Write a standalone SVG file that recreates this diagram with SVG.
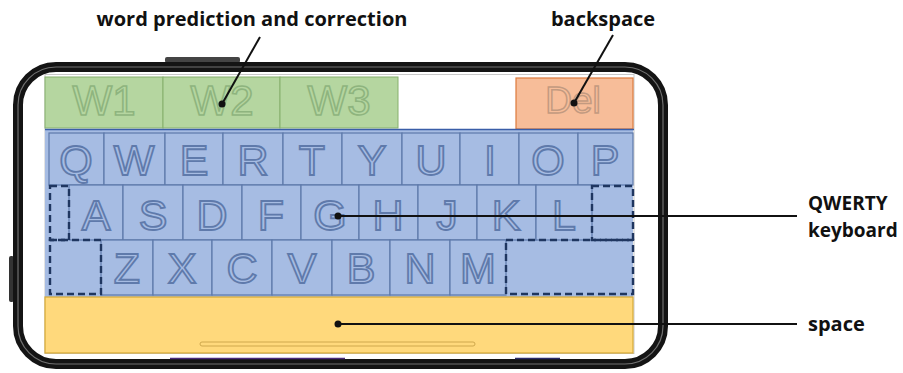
<svg xmlns="http://www.w3.org/2000/svg" width="903" height="373" viewBox="0 0 903 373">
<style>
.lbl{font-family:"Open Sans","Liberation Sans",sans-serif;font-weight:700;font-size:20px;fill:#111}
.lbs{font-size:19px}
.key{fill:#a6bce3;stroke:#5d79aa;stroke-width:1.2}
.kl{font-family:"Liberation Sans",Arial,sans-serif;font-size:43px;fill:#a6bce3;stroke:#5f7aab;stroke-width:1.8;text-anchor:middle}
.wl{font-family:"Liberation Sans",Arial,sans-serif;font-size:42px;fill:#b5d6a0;stroke:#8eb47e;stroke-width:1.6;text-anchor:middle}
.dl{font-family:"Liberation Sans",Arial,sans-serif;font-size:37px;fill:#f7bd99;stroke:#c39a80;stroke-width:1.5;text-anchor:middle}
.dash{fill:none;stroke:#1f3660;stroke-width:2.4;stroke-dasharray:7 4}
.con{stroke:#111;stroke-width:2;fill:none}
.dot{fill:#111}
</style>
<rect width="903" height="373" fill="#fff"/>
<g id="phone">
<rect x="165" y="57" width="75" height="6" rx="2" fill="#444"/>
<rect x="9" y="256" width="5" height="46" rx="2" fill="#333"/>
<rect x="18" y="67" width="645" height="297" rx="38" fill="#fff" stroke="#141414" stroke-width="10"/>
<rect x="18" y="67" width="645" height="297" rx="38" fill="none" stroke="#707070" stroke-width="1.2"/>
<line x1="170" y1="358.5" x2="345" y2="358.5" stroke="#4a2a7a" stroke-width="1.5"/>
<line x1="515" y1="358.5" x2="560" y2="358.5" stroke="#2a2a6a" stroke-width="1.5"/>
<rect x="45" y="74.5" width="589" height="279" fill="none" stroke="#c8c8c8" stroke-width="1"/>
</g>
<g id="word-bar">
<rect x="45" y="77" width="118" height="51" fill="#b5d6a0" stroke="#86b06c" stroke-width="1"/>
<rect x="163" y="77" width="117" height="51" fill="#b5d6a0" stroke="#86b06c" stroke-width="1"/>
<rect x="280" y="77" width="118" height="51" fill="#b5d6a0" stroke="#86b06c" stroke-width="1"/>
<text class="wl" x="104" y="115">W1</text>
<text class="wl" x="222" y="115">W2</text>
<text class="wl" x="339" y="115">W3</text>
</g>
<g id="del-key">
<rect x="516" y="78" width="117" height="51" fill="#f7bd99" stroke="#dc7a3c" stroke-width="1.2"/>
<text class="dl" x="573" y="113">Del</text>
</g>
<g id="keyboard">
<rect x="45" y="129" width="588" height="168" fill="#a6bce3"/>
<line x1="45" y1="129.5" x2="634" y2="129.5" stroke="#3a5ea8" stroke-width="1.5"/>
<rect class="key" x="49" y="133" width="55" height="52"/>
<rect class="key" x="104" y="133" width="61" height="52"/>
<rect class="key" x="165" y="133" width="58" height="52"/>
<rect class="key" x="223" y="133" width="60" height="52"/>
<rect class="key" x="283" y="133" width="59" height="52"/>
<rect class="key" x="342" y="133" width="60" height="52"/>
<rect class="key" x="402" y="133" width="58" height="52"/>
<rect class="key" x="460" y="133" width="59" height="52"/>
<rect class="key" x="519" y="133" width="59" height="52"/>
<rect class="key" x="578" y="133" width="55" height="52"/>
<text class="kl" x="76" y="175">Q</text>
<text class="kl" x="134" y="175">W</text>
<text class="kl" x="194" y="175">E</text>
<text class="kl" x="253" y="175">R</text>
<text class="kl" x="312" y="175">T</text>
<text class="kl" x="372" y="175">Y</text>
<text class="kl" x="431" y="175">U</text>
<text class="kl" x="490" y="175">I</text>
<text class="kl" x="548" y="175">O</text>
<text class="kl" x="605" y="175">P</text>
<rect class="key" x="69" y="185" width="54" height="55"/>
<rect class="key" x="123" y="185" width="60" height="55"/>
<rect class="key" x="183" y="185" width="59" height="55"/>
<rect class="key" x="242" y="185" width="59" height="55"/>
<rect class="key" x="301" y="185" width="58" height="55"/>
<rect class="key" x="359" y="185" width="59" height="55"/>
<rect class="key" x="418" y="185" width="59" height="55"/>
<rect class="key" x="477" y="185" width="59" height="55"/>
<rect class="key" x="536" y="185" width="56" height="55"/>
<text class="kl" x="96" y="230">A</text>
<text class="kl" x="153" y="230">S</text>
<text class="kl" x="212" y="230">D</text>
<text class="kl" x="271" y="230">F</text>
<text class="kl" x="330" y="230">G</text>
<text class="kl" x="388" y="230">H</text>
<text class="kl" x="447" y="230">J</text>
<text class="kl" x="506" y="230">K</text>
<text class="kl" x="564" y="230">L</text>
<rect class="key" x="101" y="240" width="52" height="55"/>
<rect class="key" x="153" y="240" width="59" height="55"/>
<rect class="key" x="212" y="240" width="60" height="55"/>
<rect class="key" x="272" y="240" width="60" height="55"/>
<rect class="key" x="332" y="240" width="58" height="55"/>
<rect class="key" x="390" y="240" width="60" height="55"/>
<rect class="key" x="450" y="240" width="56" height="55"/>
<text class="kl" x="127" y="283">Z</text>
<text class="kl" x="182" y="283">X</text>
<text class="kl" x="242" y="283">C</text>
<text class="kl" x="302" y="283">V</text>
<text class="kl" x="361" y="283">B</text>
<text class="kl" x="420" y="283">N</text>
<text class="kl" x="478" y="283">M</text>
<rect class="dash" x="50" y="186" width="19" height="54"/>
<rect class="dash" x="592" y="186" width="41" height="54"/>
<rect class="dash" x="50" y="240" width="51" height="54"/>
<rect class="dash" x="506" y="240" width="127" height="54"/>
</g>
<g id="space-bar">
<rect x="45" y="297" width="588" height="56" fill="#ffd97c" stroke="#d6a935" stroke-width="1.2"/>
<rect x="200" y="342" width="275" height="4" rx="2" fill="none" stroke="#cfa84c" stroke-width="1"/>
</g>
<g id="connectors">
<line class="con" x1="260" y1="37" x2="222" y2="104"/>
<circle class="dot" cx="222" cy="104" r="3.5"/>
<line class="con" x1="613" y1="35" x2="574" y2="103"/>
<circle class="dot" cx="574" cy="103" r="3.5"/>
<line class="con" x1="338" y1="216" x2="797" y2="216"/>
<circle class="dot" cx="338" cy="216" r="3.5"/>
<line class="con" x1="338" y1="324" x2="797" y2="324"/>
<circle class="dot" cx="338" cy="324" r="3.5"/>
</g>
<g id="labels">
<text class="lbl" x="252" y="26" text-anchor="middle">word prediction and correction</text>
<text class="lbl" x="603" y="26" text-anchor="middle">backspace</text>
<text class="lbl lbs" x="808" y="210">QWERTY</text>
<text class="lbl lbs" x="808" y="236.5">keyboard</text>
<text class="lbl" x="808" y="331">space</text>
</g>
</svg>
